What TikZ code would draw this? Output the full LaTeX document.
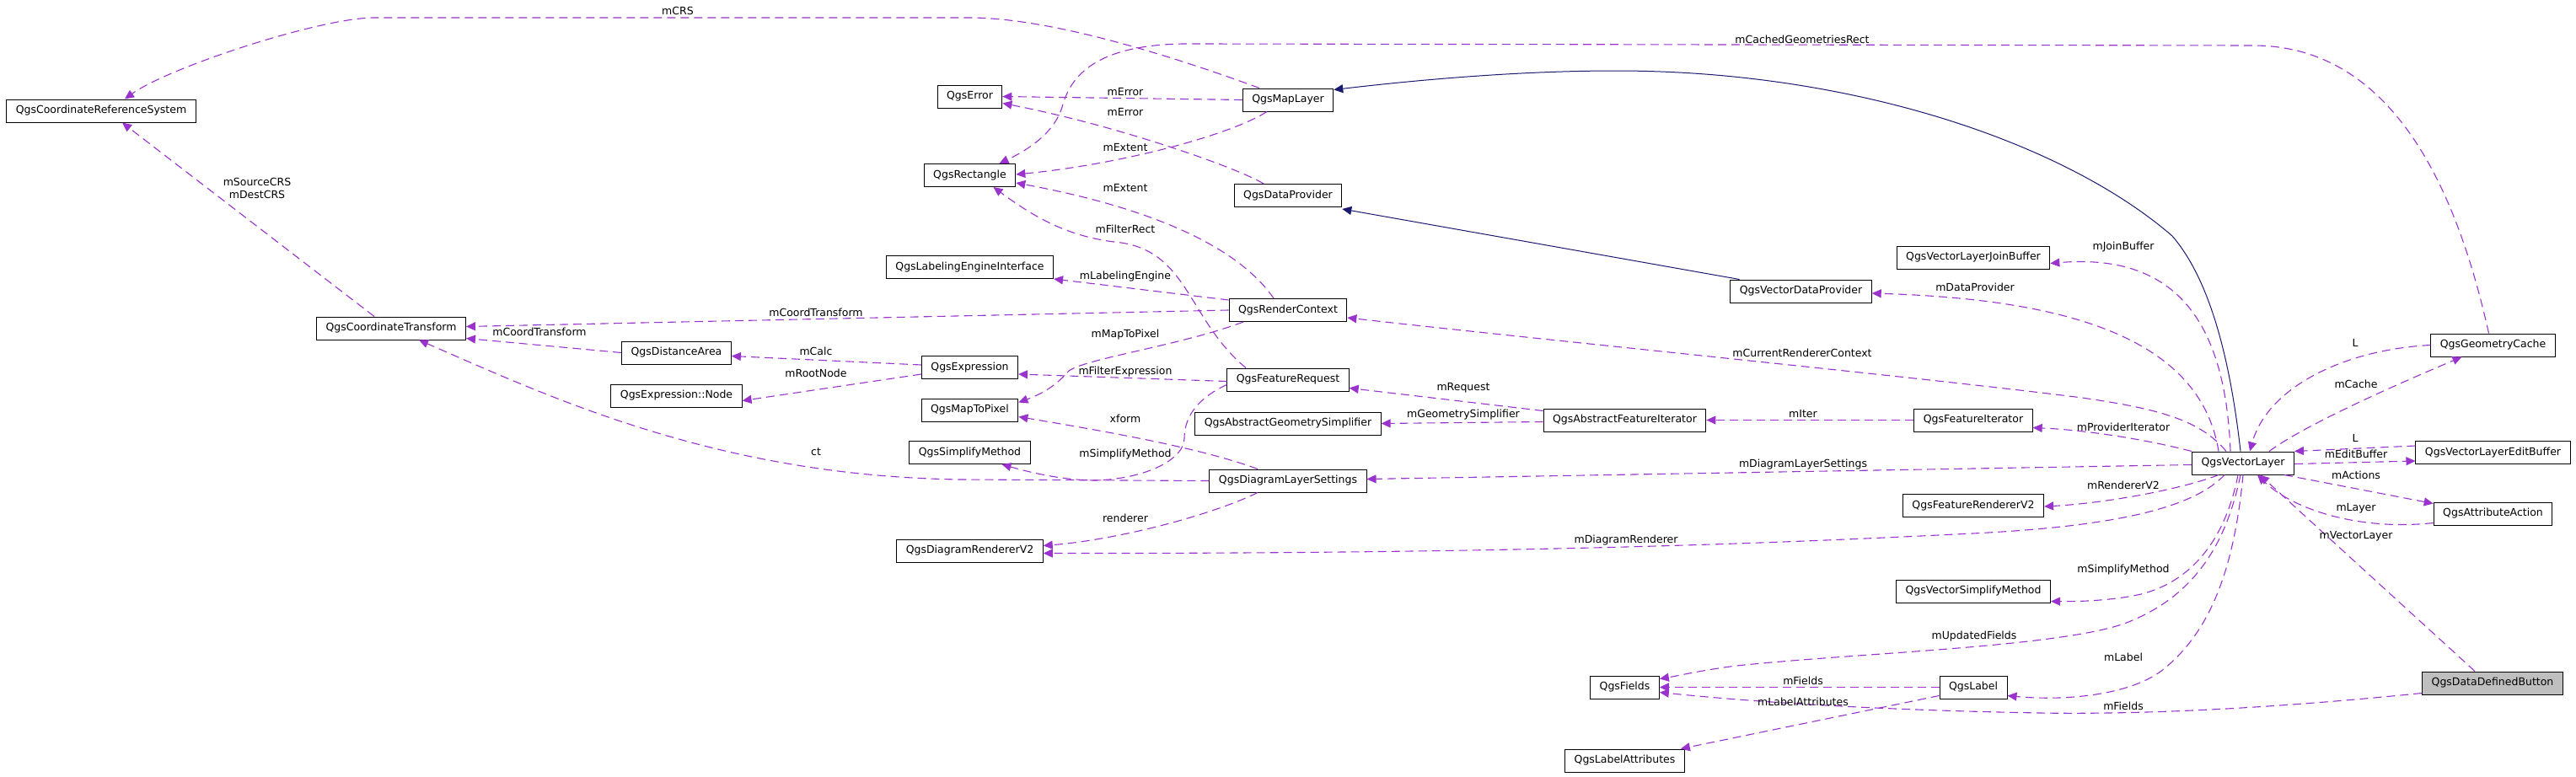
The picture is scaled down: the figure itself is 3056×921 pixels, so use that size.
\documentclass[tikz,border=0pt]{standalone}
\usepackage{fontspec}
\setmainfont{DejaVu Sans}
\usepackage{xcolor}
\usepackage{tikz}
\usetikzlibrary{arrows.meta}

\definecolor{dxpurple}{HTML}{9A32CD}
\definecolor{dxnavy}{HTML}{191970}
\definecolor{dxgray}{HTML}{BFBFBF}

\begin{document}
\begin{tikzpicture}[
  x=1pt, y=-1pt,
  font=\fontsize{12.5}{15}\selectfont,
  % class boxes
  cls/.style={draw=black, fill=white, line width=1pt,
              minimum height=27pt, inner xsep=11pt, inner ysep=0pt},
  focus/.style={cls, fill=dxgray},
  % member link and base class link
  use/.style={draw=dxpurple, line width=1.1pt, dash pattern=on 10pt off 6pt,
              -{Triangle[length=11pt,width=10pt]}},
  inh/.style={draw=dxnavy, line width=1pt,
              -{Triangle[length=11pt,width=10pt]}},
  % edge labels
  lbl/.style={inner sep=0pt, align=center},
]
\useasboundingbox (0,0) rectangle (3056,921);

% ── Column x positions ───────────────────────────────────────────────────
\def\xA{1150.5}  % QgsRectangle column
\def\xB{1528}    % QgsMapLayer column
\def\xC{1927.5}  % QgsAbstractFeatureIterator column
\def\xD{2341}    % QgsFeatureIterator column
\def\xE{2957.5}  % QgsGeometryCache column

% ── Classes ──────────────────────────────────────────────────────────────
\node[cls] (crs)   at (120,131.5)   {QgsCoordinateReferenceSystem};
\node[cls] (ct)    at (464,389.5)   {QgsCoordinateTransform};
\node[cls] (dist)  at (802.5,418.5) {QgsDistanceArea};
\node[cls] (enode) at (802.5,469.5) {QgsExpression::Node};

\node[cls] (err)   at (\xA,114.5) {QgsError};
\node[cls] (rect)  at (\xA,208)   {QgsRectangle};
\node[cls] (lei)   at (\xA,317)   {QgsLabelingEngineInterface};
\node[cls] (expr)  at (\xA,436)   {QgsExpression};
\node[cls] (m2p)   at (\xA,486.5) {QgsMapToPixel};
\node[cls] (simp)  at (\xA,537)   {QgsSimplifyMethod};
\node[cls] (drend) at (\xA,653.5) {QgsDiagramRendererV2};

\node[cls] (ml)    at (\xB,118.5) {QgsMapLayer};
\node[cls] (dp)    at (\xB,232)   {QgsDataProvider};
\node[cls] (rc)    at (\xB,368)   {QgsRenderContext};
\node[cls] (freq)  at (\xB,450.5) {QgsFeatureRequest};
\node[cls] (ags)   at (\xB,502.5) {QgsAbstractGeometrySimplifier};
\node[cls] (dls)   at (\xB,570.5) {QgsDiagramLayerSettings};

\node[cls] (afi)    at (\xC,498.5) {QgsAbstractFeatureIterator};
\node[cls] (fields) at (\xC,815.5) {QgsFields};
\node[cls] (lattr)  at (\xC,902.5) {QgsLabelAttributes};
\node[cls] (vdp)    at (2136.5,345.5) {QgsVectorDataProvider};

\node[cls] (vljb)  at (\xD,305.5) {QgsVectorLayerJoinBuffer};
\node[cls] (fi)    at (\xD,498.5) {QgsFeatureIterator};
\node[cls] (frend) at (\xD,600)   {QgsFeatureRendererV2};
\node[cls] (vsm)   at (\xD,701.5) {QgsVectorSimplifyMethod};
\node[cls] (label) at (\xD,815.5) {QgsLabel};

\node[cls] (vl)    at (2661,549.5) {QgsVectorLayer};

\node[cls]   (gc)  at (\xE,409.5) {QgsGeometryCache};
\node[cls]   (veb) at (\xE,537)   {QgsVectorLayerEditBuffer};
\node[cls]   (aa)  at (\xE,609.5) {QgsAttributeAction};
\node[focus] (ddb) at (2957,810.5) {QgsDataDefinedButton};

% ── Base classes ─────────────────────────────────────────────────────────
\draw[inh] ([xshift=-3pt]vl.north) .. controls (2645,420) and (2620,330) .. (2577,280)
  .. controls (2450,170) and (2200,84) .. (1917,84)
  .. controls (1800,84) and (1680,95) .. ([yshift=-2pt]ml.north east);
\draw[inh] ([xshift=-73pt]vdp.north) -- ([yshift=-2pt]dp.south east);

% ── Members: left part ───────────────────────────────────────────────────
\draw[use] ([xshift=-34pt]ml.north) .. controls (1400,70) and (1250,21) .. (1150,21)
  -- (444,21) .. controls (380,21) and (200,80) .. ([xshift=28pt]crs.north);
\draw[use] ([xshift=-20pt]ct.north) -- ([xshift=25pt]crs.south);
\draw[use] (ml.west) -- (err.east);
\draw[use] ([xshift=-29pt]dp.north) .. controls (1470,200) and (1330,150) .. ([yshift=-8pt]err.east);
\draw[use] ([xshift=-25pt]ml.south) .. controls (1460,160) and (1330,195) .. ([yshift=1pt]rect.east);
\draw[use] ([xshift=-17pt]rc.north) .. controls (1460,280) and (1330,240) .. ([yshift=-9pt]rect.east);
\draw[use] ([xshift=-50pt]freq.north) .. controls (1410,380) and (1410,300) .. (1330,288)
  .. controls (1270,282) and (1230,260) .. ([xshift=28pt]rect.south);
\draw[use] ([xshift=-5pt]gc.north) .. controls (2920,250) and (2850,54) .. (2673,54)
  -- (1420,52) .. controls (1300,50) and (1270,90) .. (1260,127)
  .. controls (1250,160) and (1215,180) .. ([xshift=35pt]rect.north);
\draw[use] ([yshift=-2pt]rc.north west) -- (lei.south east);
\draw[use] (rc.west) -- ([yshift=2pt]ct.east);
\draw[use] (dist.west) -- ([yshift=-12pt]ct.east);
\draw[use] (dls.west) -- (1140,569) .. controls (850,565) and (650,470) .. ([xshift=33pt]ct.south);
\draw[use] ([yshift=3pt]expr.west) -- ([yshift=-4pt]dist.east);
\draw[use] ([yshift=-8pt]expr.west) -- ([yshift=-6pt]enode.east);
\draw[use] ([xshift=-53pt]rc.south) .. controls (1400,410) and (1290,425) .. (1268,440)
  .. controls (1255,455) and (1240,466) .. ([yshift=9pt]m2p.east);
\draw[use] ([yshift=-2pt]freq.west) -- ([yshift=-8pt]expr.east);
\draw[use] ([xshift=-36pt]dls.north) .. controls (1420,530) and (1300,510) .. ([yshift=-8pt]m2p.east);
\draw[use] ([yshift=-6pt]freq.west) .. controls (1415,475) and (1405,500) .. (1405,520)
  .. controls (1405,545) and (1360,568) .. (1300,570)
  .. controls (1260,570) and (1220,560) .. ([xshift=38pt]simp.south);
\draw[use] ([xshift=-36pt]dls.south) .. controls (1440,610) and (1330,640) .. ([yshift=6pt]drend.east);

% ── Members: right part ──────────────────────────────────────────────────
\draw[use] ([xshift=-22pt]vl.south) .. controls (2600,605) and (2500,625) .. (2340,633)
  .. controls (2100,645) and (1800,657) .. ([yshift=-3pt]drend.east);
\draw[use] ([yshift=-2pt]vl.west) -- ([yshift=2pt]dls.east);
\draw[use] ([yshift=11pt]afi.west) -- ([yshift=-10pt]freq.east);
\draw[use] ([yshift=-2pt]afi.west) -- (ags.east);
\draw[use] (fi.west) -- (afi.east);
\draw[use] (vl.north west) .. controls (2540,520) and (2470,510) .. ([yshift=-9pt]fi.east);
\draw[use] ([xshift=-20pt]vl.north) .. controls (2610,498) and (2560,485) .. (2470,472)
  .. controls (2300,450) and (1800,400) .. ([yshift=-9pt]rc.east);
\draw[use] ([xshift=-29pt]vl.north) .. controls (2610,400) and (2450,355) .. ([yshift=-2.5pt]vdp.east);
\draw[use] ([xshift=-15pt]vl.north) .. controls (2640,380) and (2580,300) .. ([yshift=-7pt]vljb.east);
\draw[use] ([xshift=31pt]vl.north) .. controls (2740,500) and (2870,445) .. ([xshift=-37pt]gc.south);
\draw[use] (gc.west) .. controls (2780,415) and (2690,460) .. ([xshift=8pt]vl.north);
\draw[use] ([yshift=-1pt]vl.east) -- ([yshift=-10pt]veb.west);
\draw[use] ([yshift=8pt]veb.west) -- (vl.north east);
\draw[use] ([xshift=49pt]vl.south) -- ([yshift=12pt]aa.west);
\draw[use] ([yshift=-11pt]aa.west) .. controls (2800,630) and (2720,605) .. ([xshift=17pt]vl.south);
\draw[use] ([xshift=-21pt]ddb.north) -- ([xshift=20pt]vl.south);
\draw[use] ([xshift=-29pt]vl.south) .. controls (2590,580) and (2500,597) .. ([yshift=-1pt]frend.east);
\draw[use] ([xshift=-6pt]vl.south) .. controls (2640,640) and (2600,690) .. (2540,705)
  .. controls (2510,712) and (2470,714) .. ([yshift=-12pt]vsm.east);
\draw[use] ([xshift=-3pt]vl.south) .. controls (2640,650) and (2600,710) .. (2520,740)
  .. controls (2440,768) and (2200,775) .. (2060,790)
  .. controls (2020,795) and (1990,802) .. ([yshift=10pt]fields.east);
\draw[use] (vl.south) .. controls (2650,680) and (2620,750) .. (2568,793)
  .. controls (2530,825) and (2450,832) .. ([yshift=-10pt]label.east);
\draw[use] (label.west) -- (fields.east);
\draw[use] ([yshift=-10pt]label.west) -- ([xshift=-5pt]lattr.north east);
\draw[use] ([yshift=-12pt]ddb.west) .. controls (2700,840) and (2550,848) .. (2420,846)
  .. controls (2250,843) and (2100,835) .. ([yshift=-6pt]fields.east);

% ── Edge labels ──────────────────────────────────────────────────────────
\node[lbl] (t1)  at (804,13)    {mCRS};
\node[lbl] (t2)  at (305,223)   {mSourceCRS\\mDestCRS};
\node[lbl] (t3)  at (1335,109)  {mError};
\node[lbl] (t4)  at (1335,133)  {mError};
\node[lbl] (t5)  at (1335,175)  {mExtent};
\node[lbl] (t6)  at (1335,223)  {mExtent};
\node[lbl] (t7)  at (2138,47)   {mCachedGeometriesRect};
\node[lbl] (t8)  at (1335,272)  {mFilterRect};
\node[lbl] (t9)  at (1335,328)  {mLabelingEngine};
\node[lbl] (t10) at (968,371)   {mCoordTransform};
\node[lbl] (t11) at (640,394)   {mCoordTransform};
\node[lbl] (t12) at (968,417)   {mCalc};
\node[lbl] (t13) at (968,443)   {mRootNode};
\node[lbl] (t14) at (1335,397)  {mMapToPixel};
\node[lbl] (t15) at (1335,441)  {mFilterExpression};
\node[lbl] (t16) at (1335,497)  {xform};
\node[lbl] (t17) at (968,536)   {ct};
\node[lbl] (t18) at (1335,539)  {mSimplifyMethod};
\node[lbl] (t19) at (1335,615)  {renderer};
\node[lbl] (t20) at (1736,460)  {mRequest};
\node[lbl] (t21) at (1736,492)  {mGeometrySimplifier};
\node[lbl] (t22) at (2139,491)  {mIter};
\node[lbl] (t23) at (2139,551)  {mDiagramLayerSettings};
\node[lbl] (t24) at (1929,641)  {mDiagramRenderer};
\node[lbl] (t25) at (2139,808)  {mFields};
\node[lbl] (t26) at (2139,833)  {mLabelAttributes};
\node[lbl] (t27) at (2519,293)  {mJoinBuffer};
\node[lbl] (t28) at (2343,341)  {mDataProvider};
\node[lbl] (t29) at (2138,419)  {mCurrentRendererContext};
\node[lbl] (t30) at (2794,407)  {L};
\node[lbl] (t31) at (2795,456)  {mCache};
\node[lbl] (t32) at (2519,507)  {mProviderIterator};
\node[lbl] (t33) at (2794,520)  {L};
\node[lbl] (t34) at (2795,539)  {mEditBuffer};
\node[lbl] (t35) at (2795,564)  {mActions};
\node[lbl] (t36) at (2519,576)  {mRendererV2};
\node[lbl] (t37) at (2795,603)  {mLayer};
\node[lbl] (t38) at (2795,636)  {mVectorLayer};
\node[lbl] (t39) at (2519,676)  {mSimplifyMethod};
\node[lbl] (t40) at (2342,755)  {mUpdatedFields};
\node[lbl] (t41) at (2519,780)  {mLabel};
\node[lbl] (t42) at (2519,838)  {mFields};

\end{tikzpicture}
\end{document}
